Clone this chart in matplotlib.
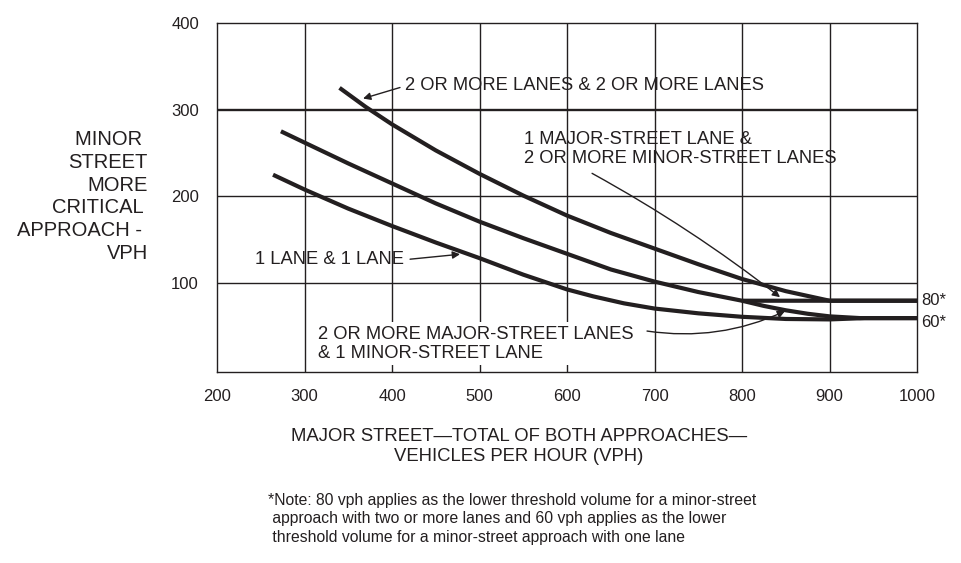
import matplotlib
matplotlib.use("Agg")
import matplotlib.pyplot as plt

plt.rcParams['font.family'] = ['Liberation Sans', 'DejaVu Sans']

INK = '#231f20'

# curves (major-street vph, minor-street vph)
two_two_x = [340, 370, 400, 450, 500, 550, 600, 650, 700, 750, 800, 850, 900, 1000]
two_two_y = [325, 303, 283, 253, 226, 201, 178, 158, 140, 122, 105, 91, 80, 80]

one_two_x = [273, 300, 350, 400, 450, 500, 550, 600, 650, 700, 750, 800, 900, 1000]
one_two_y = [275, 262, 238, 215, 192, 171, 152, 134, 116, 102, 90, 80, 80, 80]

two_one_x = [800, 825, 850, 875, 900, 935, 1000]
two_one_y = [80, 74, 69, 65, 62, 60, 60]

one_one_x = [264, 300, 350, 400, 450, 500, 550, 600, 630, 665, 700, 750, 800, 850, 900, 940, 1000]
one_one_y = [225, 208, 186, 166, 147, 129, 110, 93, 85, 77, 71, 65.5, 61.5, 59, 58.5, 60, 60]

x_ticks = [200, 300, 400, 500, 600, 700, 800, 900, 1000]
y_ticks = [100, 200, 300, 400]

fig = plt.figure(figsize=(9.62, 5.63), dpi=100)
ax = fig.add_axes([0.2256, 0.3393, 0.7277, 0.6204])
ax.set_xlim(200, 1000)
ax.set_ylim(-2, 400)

# grid
for x in x_ticks[1:-1]:
    ax.axvline(x, color=INK, lw=1.0, zorder=1)
for y in y_ticks[:-1]:
    ax.axhline(y, color=INK, lw=1.7 if y == 300 else 1.0, zorder=1)
for s in ax.spines.values():
    s.set_color(INK)
    s.set_linewidth(1.0)

ax.set_xticks(x_ticks)
ax.set_yticks(y_ticks)
ax.tick_params(length=0, labelsize=12, colors=INK)
ax.tick_params(axis='x', pad=12.5)
ax.tick_params(axis='y', pad=13)

# curves
kw = dict(color=INK, lw=3.0, solid_capstyle='butt', solid_joinstyle='round', zorder=3)
ax.plot(two_two_x, two_two_y, **kw)
ax.plot(one_two_x, one_two_y, **kw)
ax.plot(two_one_x, two_one_y, **kw)
ax.plot(one_one_x, one_one_y, **kw)

lab = dict(fontsize=13.2, color=INK, va='center', ha='left', zorder=4)
arr = dict(arrowstyle='-|>', color=INK, lw=1.0, mutation_scale=11, shrinkA=0, shrinkB=0)

ax.text(415, 327.7, '2 OR MORE LANES & 2 OR MORE LANES', **lab)
ax.annotate('', xy=(366.9, 312.7), xytext=(409.1, 325.4), arrowprops=arr)

ax.text(551, 254.7, '1 MAJOR-STREET LANE &\n2 OR MORE MINOR-STREET LANES',
        linespacing=1.15, **lab)
ax.annotate('', xy=(843.4, 84.1), xytext=(628.6, 226.6),
            arrowprops=dict(arr, connectionstyle='arc3,rad=-0.04'))

ax.text(243.4, 127.8, '1 LANE & 1 LANE', **lab)
ax.annotate('', xy=(477.7, 133.5), xytext=(420.6, 127.8), arrowprops=arr)

ax.text(315.4, 30.5, '2 OR MORE MAJOR-STREET LANES\n& 1 MINOR-STREET LANE',
        linespacing=1.15,
        bbox=dict(facecolor='white', edgecolor='none', pad=2.5), **lab)
ax.annotate('', xy=(849.1, 68.1), xytext=(691.4, 45.1),
            arrowprops=dict(arr, connectionstyle='arc3,rad=0.15'))

ax.text(1004.6, 80, '80*', fontsize=12, color=INK, va='center', ha='left', clip_on=False)
ax.text(1004.6, 54.6, '60*', fontsize=12, color=INK, va='center', ha='left', clip_on=False)

# axis titles
fig.text(148 / 962, 1 - 196.5 / 563,
         'MINOR \nSTREET\nMORE\nCRITICAL \nAPPROACH - \nVPH',
         fontsize=14.5, color=INK, ha='right', va='center', multialignment='right',
         linespacing=1.25)
fig.text(519 / 962, 1 - 446.5 / 563,
         'MAJOR STREET\u2014TOTAL OF BOTH APPROACHES\u2014\nVEHICLES PER HOUR (VPH)',
         fontsize=13.3, color=INK, ha='center', va='center', linespacing=1.25)

fig.text(268 / 962, 1 - 519 / 563,
         '*Note: 80 vph applies as the lower threshold volume for a minor-street\n'
         ' approach with two or more lanes and 60 vph applies as the lower\n'
         ' threshold volume for a minor-street approach with one lane',
         fontsize=11.3, color=INK, ha='left', va='center', linespacing=1.3)

fig.savefig('out.png', dpi=100)
